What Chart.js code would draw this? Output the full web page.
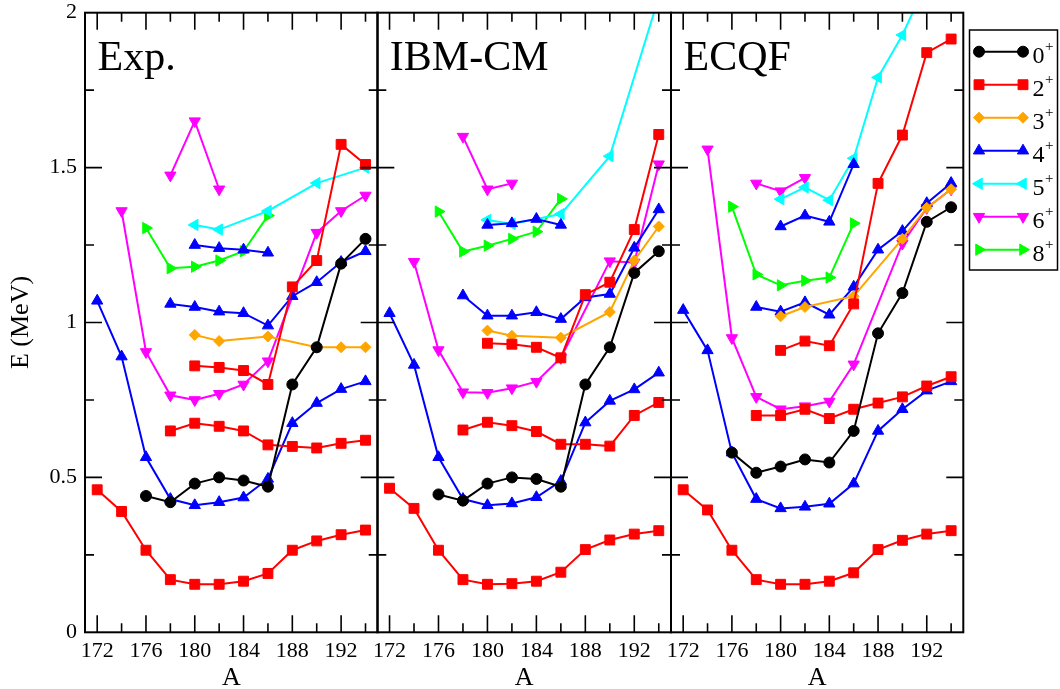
<!DOCTYPE html>
<html>
<head>
<meta charset="utf-8">
<title>Energies vs A</title>
<script src="https://cdn.jsdelivr.net/npm/chart.js@4.4.1/dist/chart.umd.min.js"></script>
<style>
  html, body { margin: 0; padding: 0; background: #fff; }
  #wrap { position: relative; width: 1060px; height: 689px; overflow: hidden; }
  #wrap canvas { position: absolute; top: 0; }
</style>
</head>
<body>
<div id="wrap">
  <canvas id="exp" width="381" height="689" style="left:0px"></canvas>
  <canvas id="ibm" width="320" height="689" style="left:354px"></canvas>
  <canvas id="ecqf" width="412" height="689" style="left:648px"></canvas>
</div>
<script>
// Mass numbers
const massA = [172, 174, 176, 178, 180, 182, 184, 186, 188, 190, 192, 194];
const xTicks = [172, 176, 180, 184, 188, 192];
const yTickLabels = ['0', '0.5', '1', '1.5', '2'];
const panelTitles = ['Exp.', 'IBM-CM', 'ECQF'];
const legendSpins = ['0', '2', '3', '4', '5', '6', '8'];

// Exp. (MeV)
const exp0  = [null, null, 0.44, 0.42, 0.48, 0.50, 0.49, 0.47, 0.80, 0.92, 1.19, 1.27];
const exp2a = [0.46, 0.39, 0.265, 0.17, 0.155, 0.155, 0.165, 0.19, 0.265, 0.295, 0.315, 0.33];
const exp2b = [null, null, null, 0.65, 0.675, 0.665, 0.65, 0.605, 0.60, 0.595, 0.61, 0.62];
const exp2c = [null, null, null, null, 0.86, 0.855, 0.845, 0.80, 1.115, 1.20, 1.575, 1.51];
const exp3  = [null, null, null, null, 0.96, 0.94, null, 0.955, null, 0.92, 0.92, 0.92];
const exp4a = [1.07, 0.89, 0.565, 0.43, 0.41, 0.42, 0.435, 0.495, 0.675, 0.74, 0.785, 0.81];
const exp4b = [null, null, null, 1.06, 1.05, 1.035, 1.03, 0.99, 1.085, 1.13, 1.195, 1.23];
const exp4c = [null, null, null, null, 1.25, 1.24, 1.235, 1.225, null, null, null, null];
const exp5  = [null, null, null, null, 1.315, 1.30, null, 1.36, null, 1.45, null, 1.50];
const exp6a = [null, 1.36, 0.905, 0.765, 0.75, 0.77, 0.80, 0.875, null, 1.29, 1.36, 1.41];
const exp6b = [null, null, null, 1.475, 1.65, 1.43, null, null, null, null, null, null];
const exp8  = [null, null, 1.305, 1.175, 1.18, 1.20, 1.23, 1.345, null, null, null, null];

// IBM-CM (MeV)
const ibm0  = [null, null, 0.445, 0.425, 0.48, 0.50, 0.495, 0.47, 0.80, 0.92, 1.16, 1.23];
const ibm2a = [0.465, 0.40, 0.265, 0.17, 0.155, 0.157, 0.165, 0.194, 0.267, 0.298, 0.317, 0.328];
const ibm2b = [null, null, null, 0.653, 0.678, 0.667, 0.648, 0.607, 0.607, 0.601, 0.70, 0.742];
const ibm2c = [null, null, null, null, 0.933, 0.93, 0.92, 0.886, 1.09, 1.13, 1.30, 1.607];
const ibm3  = [null, null, null, null, 0.974, 0.957, null, 0.951, null, 1.034, 1.20, 1.31];
const ibm4a = [1.03, 0.863, 0.565, 0.43, 0.41, 0.416, 0.436, 0.488, 0.677, 0.747, 0.784, 0.838];
const ibm4b = [null, null, null, 1.087, 1.022, 1.022, 1.033, 1.011, 1.081, 1.092, 1.241, 1.365];
const ibm4c = [null, null, null, null, 1.315, 1.32, 1.334, 1.315, null, null, null, null];
const ibm5  = [null, null, null, null, 1.331, 1.318, null, 1.35, null, 1.537, null, 2.05];
const ibm6a = [null, 1.196, 0.911, 0.775, 0.773, 0.788, 0.809, 0.886, null, 1.198, 1.194, 1.511];
const ibm6b = [null, null, null, 1.60, 1.43, 1.449, null, null, null, null, null, null];
const ibm8  = [null, null, 1.358, 1.229, 1.248, 1.27, 1.293, 1.399, null, null, null, null];

// ECQF (MeV)
const ecq0  = [null, null, 0.58, 0.515, 0.535, 0.558, 0.548, 0.65, 0.965, 1.095, 1.325, 1.372];
const ecq2a = [0.46, 0.395, 0.265, 0.17, 0.155, 0.155, 0.165, 0.192, 0.267, 0.297, 0.317, 0.328];
const ecq2b = [null, null, null, 0.70, 0.70, 0.72, 0.69, 0.72, 0.74, 0.76, 0.795, 0.825];
const ecq2c = [null, null, null, null, 0.91, 0.94, 0.925, 1.06, 1.449, 1.605, 1.871, 1.915];
const ecq3  = [null, null, null, null, 1.02, 1.05, null, 1.085, null, 1.27, 1.37, 1.43];
const ecq4a = [1.04, 0.91, 0.58, 0.43, 0.40, 0.405, 0.415, 0.48, 0.65, 0.72, 0.78, 0.81];
const ecq4b = [null, null, null, 1.05, 1.035, 1.065, 1.025, 1.115, 1.235, 1.295, 1.385, 1.45];
const ecq4c = [null, null, null, null, 1.31, 1.345, 1.325, 1.511, null, null, null, null];
const ecq5  = [null, null, null, null, 1.398, 1.436, 1.395, 1.53, 1.791, 1.928, 2.10, null];
const ecq6a = [null, 1.559, 0.95, 0.76, 0.72, 0.73, 0.745, 0.865, null, 1.255, 1.37, 1.43];
const ecq6b = [null, null, null, 1.449, 1.424, 1.467, null, null, null, null, null, null];
const ecq8  = [null, null, 1.374, 1.155, 1.12, 1.135, 1.145, 1.32, null, null, null, null];

const SERIF = "'Liberation Serif', 'DejaVu Serif', serif";

// marker look per spin
const spinStyle = {
  '0': { color: '#000000', pointStyle: 'circle', radius: 5.5, rotation: 0 },
  '2': { color: '#ff0000', pointStyle: 'rect', radius: 7, rotation: 0 },
  '3': { color: '#ffa500', pointStyle: 'rectRot', radius: 5.5, rotation: 0 },
  '4': { color: '#0000ff', pointStyle: 'triangle', radius: 6.5, rotation: 0 },
  '5': { color: '#00ffff', pointStyle: 'triangle', radius: 6.5, rotation: -90 },
  '6': { color: '#ff00ff', pointStyle: 'triangle', radius: 6.5, rotation: 180 },
  '8': { color: '#00ff00', pointStyle: 'triangle', radius: 6.5, rotation: 90 }
};

function series(spin, values) {
  const st = spinStyle[spin];
  return {
    data: values.map((v, i) => ({ x: massA[i], y: v })),
    borderColor: st.color,
    backgroundColor: st.color,
    borderWidth: 2,
    pointStyle: st.pointStyle,
    pointRadius: st.radius,
    pointRotation: st.rotation,
    pointBackgroundColor: st.color,
    pointBorderColor: st.color,
    pointBorderWidth: 1,
    spanGaps: true,
    tension: 0,
    clip: 0
  };
}

// frame with inward ticks, panel title
const framePlugin = {
  id: 'frame',
  afterDraw(chart, args, opts) {
    const { ctx, chartArea: ca, scales } = chart;
    const xs = scales.x, ys = scales.y;
    ctx.save();
    ctx.strokeStyle = '#000';
    ctx.lineWidth = 2;
    ctx.strokeRect(ca.left, ca.top, ca.right - ca.left, ca.bottom - ca.top);
    ctx.lineWidth = 1.6;
    ctx.beginPath();
    for (let v = 172; v <= 194; v += 2) {
      const px = xs.getPixelForValue(v);
      const len = (v - 172) % 4 === 0 ? 17 : 9;
      ctx.moveTo(px, ca.bottom); ctx.lineTo(px, ca.bottom - len);
      ctx.moveTo(px, ca.top); ctx.lineTo(px, ca.top + len);
    }
    for (let k = 1; k < 8; k++) {
      const v = k * 0.25;
      const py = ys.getPixelForValue(v);
      const len = k % 2 === 0 ? 17 : 9;
      ctx.moveTo(ca.left, py); ctx.lineTo(ca.left + len, py);
      ctx.moveTo(ca.right, py); ctx.lineTo(ca.right - len, py);
    }
    ctx.stroke();
    ctx.fillStyle = '#000';
    ctx.font = '42px ' + SERIF;
    ctx.textBaseline = 'alphabetic';
    ctx.fillText(opts.title, ca.left + 12.5, 70);
    ctx.restore();
  }
};

// legend box drawn on the last panel
const legendPlugin = {
  id: 'spinLegend',
  afterDraw(chart, args, opts) {
    if (!opts.show) return;
    const ctx = chart.ctx;
    const x0 = opts.offset;
    ctx.save();
    ctx.strokeStyle = '#000';
    ctx.lineWidth = 1.5;
    ctx.strokeRect(x0 + 301.5, 30, 88, 240);
    legendSpins.forEach((spin, i) => {
      const st = spinStyle[spin];
      const y = 51.7 + i * 33;
      ctx.strokeStyle = st.color;
      ctx.fillStyle = st.color;
      ctx.lineWidth = 2;
      ctx.beginPath();
      ctx.moveTo(x0 + 311, y); ctx.lineTo(x0 + 355, y);
      ctx.stroke();
      ctx.lineWidth = 1;
      [311, 355].forEach(px => {
        Chart.helpers.drawPoint(ctx, { pointStyle: st.pointStyle, radius: st.radius, rotation: st.rotation, borderWidth: 1 }, x0 + px, y);
      });
      ctx.fillStyle = '#000';
      ctx.font = '24px ' + SERIF;
      ctx.textBaseline = 'alphabetic';
      ctx.fillText(spin, x0 + 364.5, y + 11);
      const w = ctx.measureText(spin).width;
      ctx.font = '15px ' + SERIF;
      ctx.fillText('+', x0 + 364.5 + w + 0.5, y - 1);
    });
    ctx.restore();
  }
};

function panelOptions(idx, pad) {
  const first = idx === 0;
  const yScale = {
    type: 'linear',
    min: 0,
    max: 2,
    display: first,
    afterBuildTicks: s => { s.ticks = yTickLabels.map(t => ({ value: parseFloat(t) })); },
    grid: { display: false, drawTicks: true, tickLength: 7 },
    border: { display: false },
    ticks: { padding: 1, color: '#000', font: { family: SERIF, size: 22, lineHeight: 1 },
             callback: (v, i) => yTickLabels[i] },
    title: { display: true, text: 'E (MeV)', color: '#000', padding: { top: 6 }, font: { family: SERIF, size: 26 } }
  };
  if (first) yScale.afterFit = s => { s.width = 85; };
  return {
    responsive: false,
    animation: false,
    layout: { padding: pad, autoPadding: false },
    plugins: {
      legend: { display: false },
      tooltip: { enabled: false },
      frame: { title: panelTitles[idx] },
      spinLegend: { show: idx === 2, offset: 20 }
    },
    scales: {
      x: {
        type: 'linear',
        min: 171,
        max: 195,
        afterBuildTicks: s => { s.ticks = xTicks.map(v => ({ value: v })); },
        afterFit: s => { s.height = 56.7; },
        grid: { display: false, drawTicks: false },
        border: { display: false },
        ticks: { autoSkip: false, maxRotation: 0, padding: 6, color: '#000', font: { family: SERIF, size: 22 } },
        title: { display: true, text: 'A', color: '#000', padding: 0, font: { family: SERIF, size: 26, lineHeight: 0.8 } }
      },
      y: yScale
    }
  };
}

function makePanel(id, idx, pad, sets) {
  const ctx = document.getElementById(id).getContext('2d');
  return new Chart(ctx, {
    type: 'line',
    data: { datasets: sets },
    options: panelOptions(idx, pad),
    plugins: [framePlugin, legendPlugin]
  });
}

makePanel('exp', 0, { left: 0, right: 3.3, top: 12.7, bottom: 0 }, [
  series('0', exp0), series('2', exp2a), series('2', exp2b), series('2', exp2c),
  series('3', exp3), series('4', exp4a), series('4', exp4b), series('4', exp4c),
  series('5', exp5), series('6', exp6a), series('6', exp6b), series('8', exp8)
]);

makePanel('ibm', 1, { left: 23.3, right: 3, top: 12.7, bottom: 0 }, [
  series('0', ibm0), series('2', ibm2a), series('2', ibm2b), series('2', ibm2c),
  series('3', ibm3), series('4', ibm4a), series('4', ibm4b), series('4', ibm4c),
  series('5', ibm5), series('6', ibm6a), series('6', ibm6b), series('8', ibm8)
]);

makePanel('ecqf', 2, { left: 23, right: 96.7, top: 12.7, bottom: 0 }, [
  series('0', ecq0), series('2', ecq2a), series('2', ecq2b), series('2', ecq2c),
  series('3', ecq3), series('4', ecq4a), series('4', ecq4b), series('4', ecq4c),
  series('5', ecq5), series('6', ecq6a), series('6', ecq6b), series('8', ecq8)
]);
</script>
</body>
</html>
